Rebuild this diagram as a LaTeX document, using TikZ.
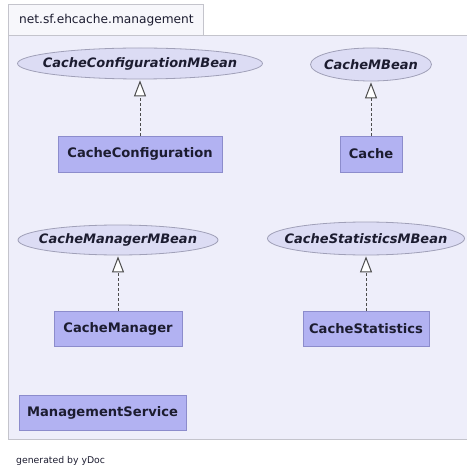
\documentclass[tikz,border=0pt]{standalone}
\usepackage{fontspec}
\setmainfont{DejaVu Sans}
\usetikzlibrary{shapes.geometric,arrows.meta}
\definecolor{pkgbg}{HTML}{EEEEFA}
\definecolor{tabbg}{HTML}{F7F7FB}
\definecolor{frame}{HTML}{C4C4CC}
\definecolor{ifill}{HTML}{DCDCF4}
\definecolor{iline}{HTML}{A0A0B8}
\definecolor{cfill}{HTML}{B2B2F2}
\definecolor{cline}{HTML}{8C8CCC}
\definecolor{txt}{HTML}{1C1C30}
\tikzset{
  iface/.style={ellipse, draw=iline, fill=ifill, line width=0.8pt, inner sep=0pt},
  itext/.style={inner sep=0pt, text=txt, font=\fontsize{13}{14}\selectfont\bfseries\itshape},
  cls/.style={rectangle, draw=cline, fill=cfill, line width=0.8pt, inner sep=0pt,
    text=txt, font=\fontsize{13.1}{14}\selectfont\bfseries},
  realize/.style={draw=black!70, line width=1pt, dash pattern=on 3pt off 2pt,
    -{Triangle[open, fill=white, length=16pt, width=12pt, line width=1pt]}, shorten >=1pt},
  plain/.style={anchor=west, inner sep=0pt, text=txt}
}
\begin{document}
\begin{tikzpicture}[x=1pt,y=-1pt]
\useasboundingbox (0,0) rectangle (466,470);
\fill[white] (0,0) rectangle (466,470);
% package frame
\draw[frame, fill=pkgbg, line width=1pt] (8,36) rectangle (472,439);
\draw[frame, fill=tabbg, line width=1pt] (8,36) rectangle (203,5);
\node[plain, font=\fontsize{12.2}{13}\selectfont] (pkg) at (19,20.5) {net.sf.ehcache.management};
% interfaces
\node[iface, minimum width=245pt, minimum height=31pt] (ccmb) at (140,63.5) {};
\node[itext] (ccmbt) at (ccmb.center) {CacheConfigurationMBean};
\node[iface, minimum width=121pt, minimum height=33pt] (cmb) at (371,64.5) {};
\node[itext] (cmbt) at (cmb.center) {CacheMBean};
\node[iface, minimum width=200pt, minimum height=30pt] (cmmb) at (118,240) {};
\node[itext] (cmmbt) at (cmmb.center) {CacheManagerMBean};
\node[iface, minimum width=197pt, minimum height=33pt] (csmb) at (366,238.5) {};
\node[itext] (csmbt) at (csmb.center) {CacheStatisticsMBean};
% classes
\node[cls, minimum width=164pt, minimum height=36pt] (cc) at (140,154) {CacheConfiguration};
\node[cls, minimum width=62pt, minimum height=36pt] (c) at (371,154) {Cache};
\node[cls, minimum width=128pt, minimum height=35pt] (cm) at (118,328.5) {CacheManager};
\node[cls, minimum width=126pt, minimum height=35pt] (cs) at (366,328.5) {CacheStatistics};
\node[cls, minimum width=167pt, minimum height=35pt] (ms) at (102.5,412.5) {ManagementService};
% realizations
\draw[realize] (cc) -- (ccmb);
\draw[realize] (c) -- (cmb);
\draw[realize] (cm) -- (cmmb);
\draw[realize] (cs) -- (csmb);
% footer
\node[plain, font=\fontsize{9.3}{11}\selectfont] (gen) at (16,461) {generated by yDoc};
\end{tikzpicture}
\end{document}
